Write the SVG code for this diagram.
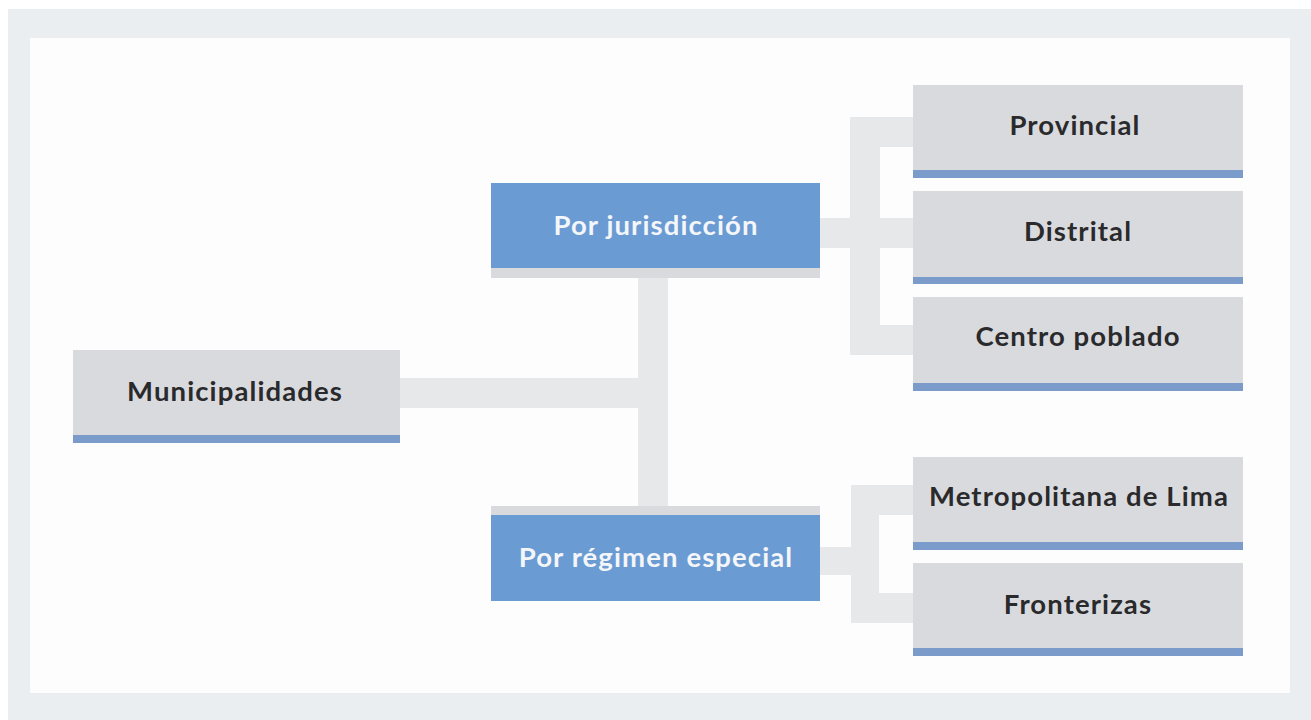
<svg xmlns="http://www.w3.org/2000/svg" width="1311" height="720" viewBox="0 0 1311 720">
<style>
.box{fill:#d9dade}
.bar{fill:#7b9ccb}
.blue{fill:#6a9bd3}
.cap{fill:#d9dade}
.con{fill:#e7e8ea}
.t{font-family:Lato,"Open Sans",sans-serif;font-weight:bold;font-size:27.5px;letter-spacing:1.1px;text-anchor:middle}
.dark{fill:#2a2a2c}
.light{fill:#f4f6f9}
</style>
<rect x="0" y="0" width="1311" height="720" fill="#ffffff"/>
<rect x="8" y="9" width="1303" height="711" fill="#ebeef1"/>
<rect x="30" y="38" width="1260" height="655" fill="#fdfdfd"/>
<g id="connectors">
<rect class="con" x="400" y="378" width="268" height="30"/>
<rect class="con" x="638" y="278" width="30" height="228"/>
<rect class="con" x="820" y="218" width="93" height="30"/>
<rect class="con" x="850" y="117" width="30" height="238"/>
<rect class="con" x="850" y="117" width="63" height="30"/>
<rect class="con" x="850" y="325" width="63" height="30"/>
<rect class="con" x="820" y="547" width="58" height="28"/>
<rect class="con" x="851" y="485" width="28" height="138"/>
<rect class="con" x="851" y="485" width="62" height="30"/>
<rect class="con" x="851" y="593" width="62" height="30"/>
</g>
<g id="n-municipalidades">
<rect class="box" x="73" y="350" width="327" height="86"/>
<rect class="bar" x="73" y="435" width="327" height="8"/>
<text class="t dark" x="235" y="401">Municipalidades</text>
</g>
<g id="n-jurisdiccion">
<rect class="blue" x="491" y="183" width="329" height="85"/>
<rect class="cap" x="491" y="268" width="329" height="10"/>
<text class="t light" x="656" y="235">Por jurisdicción</text>
</g>
<g id="n-regimen">
<rect class="cap" x="491" y="506" width="329" height="9"/>
<rect class="blue" x="491" y="515" width="329" height="86"/>
<text class="t light" x="656" y="567">Por régimen especial</text>
</g>
<g id="n-provincial">
<rect class="box" x="913" y="85" width="330" height="86"/>
<rect class="bar" x="913" y="170" width="330" height="8"/>
<text class="t dark" x="1075" y="135">Provincial</text>
</g>
<g id="n-distrital">
<rect class="box" x="913" y="191" width="330" height="86"/>
<rect class="bar" x="913" y="277" width="330" height="7"/>
<text class="t dark" x="1078" y="241">Distrital</text>
</g>
<g id="n-centro">
<rect class="box" x="913" y="297" width="330" height="86"/>
<rect class="bar" x="913" y="383" width="330" height="8"/>
<text class="t dark" x="1078" y="346">Centro poblado</text>
</g>
<g id="n-metropolitana">
<rect class="box" x="913" y="457" width="330" height="86"/>
<rect class="bar" x="913" y="542" width="330" height="8"/>
<text class="t dark" x="1079" y="506">Metropolitana de Lima</text>
</g>
<g id="n-fronterizas">
<rect class="box" x="913" y="563" width="330" height="86"/>
<rect class="bar" x="913" y="648" width="330" height="8"/>
<text class="t dark" x="1078" y="614">Fronterizas</text>
</g>
</svg>
